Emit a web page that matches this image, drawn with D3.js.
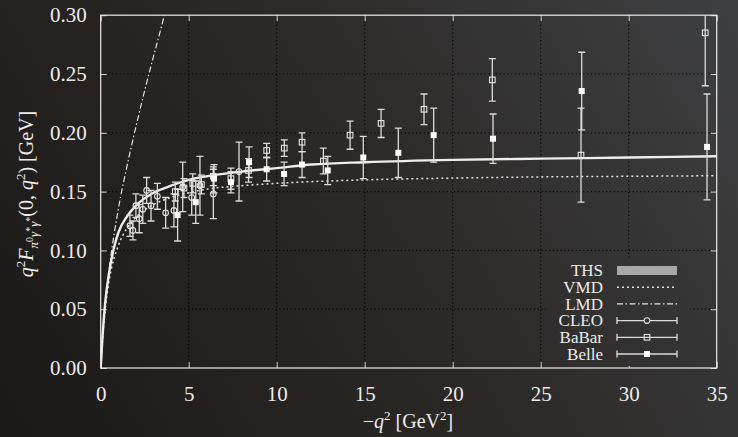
<!DOCTYPE html>
<meta charset="utf-8" />
<script src="https://cdn.jsdelivr.net/npm/d3@7"></script>
<html>
<head>
<style>
  body { margin: 0; background: #262422; }
  svg { display: block; }
  svg text { font-family: "Liberation Serif", serif; fill: #ececec; }
</style>
</head>
<body>
<script>
// curves: [-q^2, q^2 F]
const thsCurve = [[0,0],[0.1,0.026],[0.25,0.055],[0.5,0.083],[0.75,0.102],[1,0.115],[1.5,0.129],[2,0.138],[3,0.149],[4,0.155],[5,0.160],[6,0.163],[8,0.167],[10,0.170],[12,0.173],[15,0.175],[20,0.177],[25,0.178],[30,0.179],[35,0.180]];
const vmdCurve = [[0,0],[0.1,0.024],[0.25,0.049],[0.5,0.076],[1,0.104],[1.5,0.119],[2,0.128],[3,0.139],[4,0.145],[5,0.149],[6,0.152],[8,0.155],[10,0.157],[15,0.160],[20,0.1615],[25,0.1625],[30,0.163],[35,0.1635]];
const lmdCurve = [[0,0],[0.1,0.024],[0.25,0.052],[0.5,0.086],[1,0.135],[1.5,0.172],[2,0.205],[2.5,0.236],[3,0.265],[3.5,0.293],[3.7,0.305]];

// data points: [-q^2, q^2 F, error]
const cleo = [[1.66,0.121,0.009],[1.83,0.117,0.008],[2.00,0.138,0.010],[2.19,0.127,0.012],[2.39,0.135,0.012],[2.61,0.151,0.011],[2.86,0.138,0.013],[3.22,0.146,0.011],[3.69,0.132,0.013],[4.16,0.134,0.014],[4.66,0.154,0.021],[5.17,0.145,0.015],[5.64,0.155,0.025],[6.40,0.148,0.021],[7.86,0.167,0.025]];
const babar = [[4.24,0.150,0.008],[4.73,0.153,0.008],[5.23,0.157,0.008],[5.72,0.156,0.008],[6.40,0.163,0.008],[7.40,0.161,0.009],[8.40,0.168,0.010],[9.43,0.185,0.006],[10.43,0.187,0.007],[11.44,0.192,0.008],[12.65,0.176,0.011],[14.17,0.198,0.012],[15.93,0.208,0.012],[18.37,0.220,0.013],[22.25,0.245,0.018],[27.29,0.181,0.040],[34.35,0.285,0.045]];
const belle = [[4.37,0.130,0.022],[5.40,0.141,0.018],[6.44,0.161,0.012],[7.40,0.158,0.009],[8.43,0.175,0.013],[9.43,0.169,0.010],[10.42,0.165,0.010],[11.44,0.173,0.011],[12.90,0.168,0.012],[14.92,0.179,0.018],[16.91,0.183,0.021],[18.92,0.198,0.023],[22.29,0.195,0.021],[27.33,0.2355,0.033],[34.45,0.188,0.045]];

const xTicks = [0, 5, 10, 15, 20, 25, 30, 35];
const yTicks = [0, 0.05, 0.10, 0.15, 0.20, 0.25, 0.30];
const legendNames = ["THS", "VMD", "LMD", "CLEO", "BaBar", "Belle"];

const width = 738, height = 437;
const x = d3.scaleLinear().domain([0, 35]).range([100.7, 716.7]);
const y = d3.scaleLinear().domain([0, 0.30]).range([368, 15.2]);

const svg = d3.select("body").append("svg")
    .attr("width", width).attr("height", height);

// chalkboard-ish background
const defs = svg.append("defs");
const grad = defs.append("linearGradient").attr("id", "bg")
    .attr("gradientUnits", "userSpaceOnUse")
    .attr("x1", 0).attr("y1", 437).attr("x2", 738).attr("y2", 0);
grad.append("stop").attr("offset", 0).attr("stop-color", "#1b1917");
grad.append("stop").attr("offset", 0.45).attr("stop-color", "#292624");
grad.append("stop").attr("offset", 1).attr("stop-color", "#3f4042");
defs.append("clipPath").attr("id", "plot").append("rect")
    .attr("x", x(0)).attr("y", y(0.30))
    .attr("width", x(35) - x(0)).attr("height", y(0) - y(0.30));

svg.append("rect").attr("width", width).attr("height", height).attr("fill", "url(#bg)");

// dotted grid
const grid = svg.append("g").attr("stroke", "#000").attr("stroke-opacity", 0.85)
    .attr("stroke-width", 1.2).attr("stroke-dasharray", "1.2,2.6");
grid.selectAll(".gx").data(xTicks.slice(1, -1)).enter().append("line")
    .attr("x1", d => x(d)).attr("x2", d => x(d))
    .attr("y1", y(0)).attr("y2", y(0.30));
grid.selectAll(".gy").data(yTicks.slice(1, -1)).enter().append("line")
    .attr("x1", x(0)).attr("x2", x(35))
    .attr("y1", d => y(d)).attr("y2", d => y(d));

// axes, ticks pointing inward on all four sides
const tickFmt = d3.format(".2f");
const axB = svg.append("g").attr("transform", `translate(0,${y(0)})`)
    .call(d3.axisBottom(x).tickValues(xTicks).tickSizeInner(-6).tickSizeOuter(0).tickPadding(16));
const axL = svg.append("g").attr("transform", `translate(${x(0)},0)`)
    .call(d3.axisLeft(y).tickValues(yTicks).tickFormat(tickFmt).tickSizeInner(-6).tickSizeOuter(0).tickPadding(14));
svg.append("g").attr("transform", `translate(0,${y(0.30)})`)
    .call(d3.axisTop(x).tickValues(xTicks).tickSizeInner(-6).tickSizeOuter(0).tickFormat(""));
svg.append("g").attr("transform", `translate(${x(35)},0)`)
    .call(d3.axisRight(y).tickValues(yTicks).tickSizeInner(-6).tickSizeOuter(0).tickFormat(""));
svg.selectAll(".domain").remove();
svg.selectAll("g").attr("font-family", null).attr("font-size", null);
svg.selectAll(".tick line").attr("stroke", "#d8d8d8");
svg.selectAll(".tick text").attr("fill", "#ececec").style("font-size", "21px");
axB.selectAll(".tick text").attr("dy", "0.8em");

svg.append("rect")
    .attr("x", x(0)).attr("y", y(0.30))
    .attr("width", x(35) - x(0)).attr("height", y(0) - y(0.30))
    .attr("fill", "none").attr("stroke", "#ececec").attr("stroke-width", 1.2);

// theory curves
const line = d3.line().x(d => x(d[0])).y(d => y(d[1])).curve(d3.curveMonotoneX);
const curves = svg.append("g").attr("clip-path", "url(#plot)").attr("fill", "none");
curves.append("path").datum(lmdCurve).attr("d", line)
    .attr("stroke", "#e4e4e4").attr("stroke-width", 1.2).attr("stroke-dasharray", "6,2.5,1.5,2.5");
curves.append("path").datum(vmdCurve).attr("d", line)
    .attr("stroke", "#e4e4e4").attr("stroke-width", 1.5).attr("stroke-dasharray", "2,3");
curves.append("path").datum(thsCurve).attr("d", line)
    .attr("stroke", "#eeeeee").attr("stroke-width", 2.4);

// error bars + markers
const pts = svg.append("g").attr("clip-path", "url(#plot)");
function errorBars(data, cls) {
    const g = pts.append("g").attr("class", cls).attr("stroke", "#dcdcdc").attr("stroke-width", 1.3);
    g.selectAll("line.v").data(data).enter().append("line")
        .attr("x1", d => x(d[0])).attr("x2", d => x(d[0]))
        .attr("y1", d => y(d[1] - d[2])).attr("y2", d => y(d[1] + d[2]));
    [-1, 1].forEach(s => {
        g.selectAll("line.c" + s).data(data).enter().append("line")
            .attr("x1", d => x(d[0]) - 3.5).attr("x2", d => x(d[0]) + 3.5)
            .attr("y1", d => y(d[1] + s * d[2])).attr("y2", d => y(d[1] + s * d[2]));
    });
    return g;
}
errorBars(cleo, "cleo").selectAll("circle").data(cleo).enter().append("circle")
    .attr("cx", d => x(d[0])).attr("cy", d => y(d[1])).attr("r", 2.8)
    .attr("fill", "none").attr("stroke", "#e6e6e6").attr("stroke-width", 1.1);
errorBars(babar, "babar").selectAll("rect").data(babar).enter().append("rect")
    .attr("x", d => x(d[0]) - 2.8).attr("y", d => y(d[1]) - 2.8)
    .attr("width", 5.6).attr("height", 5.6)
    .attr("fill", "none").attr("stroke", "#e6e6e6").attr("stroke-width", 1.1);
errorBars(belle, "belle").selectAll("rect").data(belle).enter().append("rect")
    .attr("x", d => x(d[0]) - 3).attr("y", d => y(d[1]) - 3)
    .attr("width", 6).attr("height", 6)
    .attr("fill", "#ffffff").attr("stroke", "none");

// legend
const lg = svg.append("g");
lg.append("rect").attr("x", 546).attr("y", 259).attr("width", 144).attr("height", 107)
    .attr("fill", "url(#bg)");
const rowY = i => 270.5 + i * 16.7;
lg.selectAll("text").data(legendNames).enter().append("text")
    .attr("x", 603).attr("y", d => rowY(legendNames.indexOf(d)))
    .attr("dy", "0.34em").attr("text-anchor", "end").style("font-size", "17px")
    .text(d => d);
const lx0 = 617, lx1 = 677, lxm = (lx0 + lx1) / 2;
lg.append("line").attr("x1", lx0).attr("x2", lx1).attr("y1", rowY(0)).attr("y2", rowY(0))
    .attr("stroke", "#a8a8a8").attr("stroke-width", 9);
lg.append("line").attr("x1", lx0).attr("x2", lx1).attr("y1", rowY(1)).attr("y2", rowY(1))
    .attr("stroke", "#e4e4e4").attr("stroke-width", 1.5).attr("stroke-dasharray", "2,3");
lg.append("line").attr("x1", lx0).attr("x2", lx1).attr("y1", rowY(2)).attr("y2", rowY(2))
    .attr("stroke", "#e4e4e4").attr("stroke-width", 1.2).attr("stroke-dasharray", "6,2.5,1.5,2.5");
[3, 4, 5].forEach(i => {
    const yy = rowY(i);
    lg.append("line").attr("x1", lx0).attr("x2", lx1).attr("y1", yy).attr("y2", yy)
        .attr("stroke", "#dcdcdc").attr("stroke-width", 1.3);
    [lx0, lx1].forEach(cx => lg.append("line").attr("x1", cx).attr("x2", cx)
        .attr("y1", yy - 3.5).attr("y2", yy + 3.5).attr("stroke", "#dcdcdc").attr("stroke-width", 1.3));
});
lg.append("circle").attr("cx", lxm).attr("cy", rowY(3)).attr("r", 2.8)
    .attr("fill", "#2f3134").attr("stroke", "#e6e6e6").attr("stroke-width", 1.1);
lg.append("rect").attr("x", lxm - 2.8).attr("y", rowY(4) - 2.8).attr("width", 5.6).attr("height", 5.6)
    .attr("fill", "none").attr("stroke", "#e6e6e6").attr("stroke-width", 1.1);
lg.append("rect").attr("x", lxm - 3).attr("y", rowY(5) - 3).attr("width", 6).attr("height", 6)
    .attr("fill", "#fff");

// axis titles
const xt = svg.append("text").attr("x", 408).attr("y", 428).attr("text-anchor", "middle")
    .style("font-size", "20px");
xt.append("tspan").text("\u2212");
xt.append("tspan").style("font-style", "italic").text("q");
xt.append("tspan").style("font-size", "13px").attr("dy", -8).text("2");
xt.append("tspan").attr("dy", 8).text(" [GeV");
xt.append("tspan").style("font-size", "13px").attr("dy", -8).text("2");
xt.append("tspan").attr("dy", 8).text("]");

const yt = svg.append("text").attr("transform", "translate(33,194) rotate(-90)")
    .attr("text-anchor", "middle").style("font-size", "20px");
const parts = [
    ["q", 20, true, 0], ["2", 13, false, -8], ["F", 20, true, 8],
    ["\u03c0", 13, true, 5], ["0", 10, false, -5], ["\u03b3", 13, true, 5], ["*", 10, false, -5],
    ["\u03b3", 13, true, 5], ["*", 10, false, -5],
    ["(0, ", 20, false, -0], ["q", 20, true, 0], ["2", 13, false, -8], [") [GeV]", 20, false, 8]
];
parts.forEach(p => {
    yt.append("tspan").style("font-size", p[1] + "px")
        .style("font-style", p[2] ? "italic" : "normal")
        .attr("dy", p[3]).text(p[0]);
});
</script>
</body>
</html>
